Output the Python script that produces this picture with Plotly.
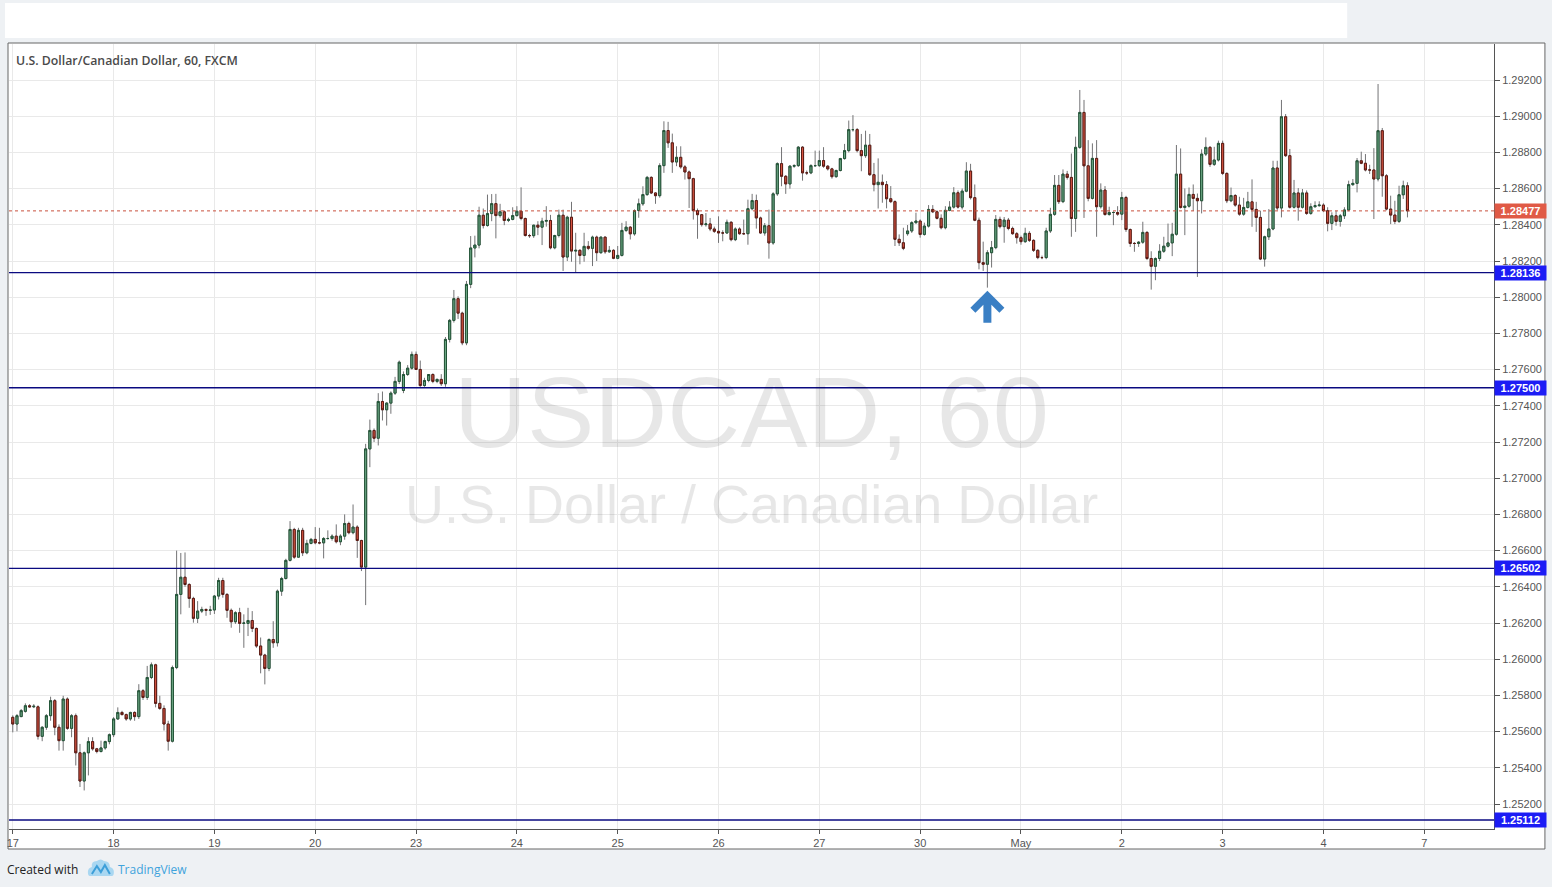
import plotly.graph_objects as go

# ---------------- data ----------------
day_labels = ["17", "18", "19", "20", "23", "24", "25", "26", "27", "30", "May", "2", "3", "4", "7"]

opens = [
    1.25679, 1.25642, 1.25683, 1.25712, 1.25743, 1.25737, 1.25737, 1.25574, 1.25624, 1.25688, 1.25771, 1.25624,
    1.25550, 1.25780, 1.25618, 1.25688, 1.25483, 1.25327, 1.25483, 1.25545, 1.25505, 1.25490, 1.25510, 1.25545,
    1.25583, 1.25670, 1.25706, 1.25694, 1.25670, 1.25706, 1.25683, 1.25826, 1.25789, 1.25899, 1.25969, 1.25756,
    1.25728, 1.25642, 1.25547, 1.25954, 1.26358, 1.26453, 1.26413, 1.26336, 1.26226, 1.26266, 1.26275, 1.26270,
    1.26272, 1.26349, 1.26435, 1.26358, 1.26270, 1.26207, 1.26257, 1.26198, 1.26198, 1.26214, 1.26170, 1.26073,
    1.26023, 1.25949, 1.26109, 1.26091, 1.26376, 1.26446, 1.26546, 1.26717, 1.26564, 1.26712, 1.26588, 1.26640,
    1.26662, 1.26643, 1.26643, 1.26667, 1.26667, 1.26680, 1.26649, 1.26680, 1.26750, 1.26699, 1.26730, 1.26656,
    1.26509, 1.27162, 1.27264, 1.27221, 1.27424, 1.27378, 1.27415, 1.27470, 1.27535, 1.27485, 1.27573, 1.27608,
    1.27684, 1.27601, 1.27512, 1.27540, 1.27573, 1.27535, 1.27546, 1.27522, 1.27767, 1.27872, 1.27992, 1.27912,
    1.27748, 1.28071, 1.28272, 1.28288, 1.28453, 1.28396, 1.28462, 1.28517, 1.28451, 1.28472, 1.28424, 1.28430,
    1.28451, 1.28475, 1.28435, 1.28341, 1.28340, 1.28398, 1.28387, 1.28420, 1.28424, 1.28273, 1.28341, 1.28453,
    1.28222, 1.28442, 1.28255, 1.28259, 1.28231, 1.28281, 1.28270, 1.28332, 1.28246, 1.28332, 1.28251, 1.28259,
    1.28215, 1.28231, 1.28369, 1.28387, 1.28350, 1.28479, 1.28516, 1.28567, 1.28662, 1.28576, 1.28561, 1.28727,
    1.28921, 1.28853, 1.28747, 1.28773, 1.28720, 1.28692, 1.28655, 1.28478, 1.28456, 1.28401, 1.28405, 1.28377,
    1.28364, 1.28355, 1.28355, 1.28414, 1.28318, 1.28377, 1.28351, 1.28351, 1.28489, 1.28534, 1.28438, 1.28355,
    1.28395, 1.28300, 1.28571, 1.28738, 1.28668, 1.28626, 1.28724, 1.28727, 1.28829, 1.28687, 1.28687, 1.28727,
    1.28727, 1.28755, 1.28724, 1.28709, 1.28666, 1.28700, 1.28766, 1.28810, 1.28926, 1.28926, 1.28810, 1.28782,
    1.28840, 1.28677, 1.28622, 1.28635, 1.28622, 1.28544, 1.28528, 1.28320, 1.28301, 1.28351, 1.28366, 1.28412,
    1.28421, 1.28347, 1.28393, 1.28485, 1.28472, 1.28436, 1.28384, 1.28480, 1.28498, 1.28577, 1.28498, 1.28586,
    1.28697, 1.28550, 1.28425, 1.28191, 1.28182, 1.28246, 1.28274, 1.28430, 1.28390, 1.28426, 1.28380, 1.28351,
    1.28329, 1.28307, 1.28353, 1.28314, 1.28259, 1.28219, 1.28219, 1.28366, 1.28458, 1.28618, 1.28528, 1.28680,
    1.28662, 1.28435, 1.28828, 1.29021, 1.28726, 1.28546, 1.28767, 1.28500, 1.28592, 1.28457, 1.28468, 1.28468,
    1.28459, 1.28551, 1.28374, 1.28297, 1.28297, 1.28304, 1.28358, 1.28214, 1.28171, 1.28214, 1.28254, 1.28282,
    1.28300, 1.28348, 1.28680, 1.28496, 1.28503, 1.28568, 1.28546, 1.28533, 1.28791, 1.28828, 1.28734, 1.28758,
    1.28850, 1.28684, 1.28533, 1.28562, 1.28509, 1.28459, 1.28496, 1.28527, 1.28485, 1.28441, 1.28211, 1.28334,
    1.28377, 1.28714, 1.28493, 1.28997, 1.28782, 1.28497, 1.28576, 1.28497, 1.28576, 1.28463, 1.28500, 1.28506,
    1.28509, 1.28478, 1.28408, 1.28450, 1.28419, 1.28450, 1.28482, 1.28622, 1.28629, 1.28754, 1.28740, 1.28703,
    1.28703, 1.28653, 1.28920, 1.28671, 1.28487, 1.28454, 1.28419, 1.28566, 1.28616,
]

highs = [
    1.25690, 1.25697, 1.25725, 1.25756, 1.25752, 1.25752, 1.25745, 1.25630, 1.25697, 1.25793, 1.25780, 1.25640,
    1.25798, 1.25789, 1.25697, 1.25700, 1.25532, 1.25490, 1.25569, 1.25569, 1.25510, 1.25550, 1.25550, 1.25590,
    1.25680, 1.25734, 1.25715, 1.25700, 1.25710, 1.25712, 1.25862, 1.25835, 1.25963, 1.25982, 1.25975, 1.25798,
    1.25745, 1.25660, 1.25965, 1.26600, 1.26587, 1.26590, 1.26420, 1.26345, 1.26321, 1.26290, 1.26280, 1.26295,
    1.26355, 1.26450, 1.26450, 1.26365, 1.26280, 1.26265, 1.26284, 1.26248, 1.26284, 1.26266, 1.26175, 1.26120,
    1.26030, 1.26115, 1.26210, 1.26385, 1.26455, 1.26555, 1.26763, 1.26726, 1.26726, 1.26726, 1.26660, 1.26670,
    1.26730, 1.26726, 1.26675, 1.26712, 1.26690, 1.26745, 1.26690, 1.26800, 1.26760, 1.26855, 1.26740, 1.26660,
    1.27190, 1.27324, 1.27275, 1.27470, 1.27479, 1.27420, 1.27480, 1.27560, 1.27650, 1.27590, 1.27625, 1.27700,
    1.27700, 1.27650, 1.27555, 1.27575, 1.27580, 1.27550, 1.27575, 1.27780, 1.27880, 1.28040, 1.28005, 1.27920,
    1.28090, 1.28338, 1.28340, 1.28500, 1.28490, 1.28567, 1.28570, 1.28571, 1.28516, 1.28480, 1.28440, 1.28497,
    1.28503, 1.28607, 1.28440, 1.28350, 1.28400, 1.28420, 1.28439, 1.28503, 1.28455, 1.28345, 1.28484, 1.28484,
    1.28450, 1.28527, 1.28356, 1.28265, 1.28356, 1.28310, 1.28340, 1.28340, 1.28335, 1.28335, 1.28283, 1.28265,
    1.28283, 1.28411, 1.28420, 1.28393, 1.28485, 1.28545, 1.28613, 1.28670, 1.28668, 1.28580, 1.28740, 1.28972,
    1.28969, 1.28904, 1.28834, 1.28834, 1.28730, 1.28700, 1.28660, 1.28490, 1.28460, 1.28465, 1.28438, 1.28390,
    1.28447, 1.28370, 1.28429, 1.28420, 1.28386, 1.28386, 1.28429, 1.28539, 1.28571, 1.28567, 1.28445, 1.28410,
    1.28484, 1.28580, 1.28745, 1.28829, 1.28675, 1.28730, 1.28735, 1.28835, 1.28835, 1.28700, 1.28735, 1.28810,
    1.28810, 1.28829, 1.28730, 1.28715, 1.28705, 1.28770, 1.28847, 1.28976, 1.29006, 1.28935, 1.28902, 1.28920,
    1.28902, 1.28742, 1.28767, 1.28678, 1.28642, 1.28614, 1.28535, 1.28347, 1.28384, 1.28399, 1.28420, 1.28467,
    1.28430, 1.28412, 1.28509, 1.28509, 1.28480, 1.28458, 1.28503, 1.28531, 1.28608, 1.28590, 1.28601, 1.28746,
    1.28737, 1.28623, 1.28440, 1.28307, 1.28260, 1.28311, 1.28454, 1.28445, 1.28443, 1.28438, 1.28390, 1.28360,
    1.28340, 1.28384, 1.28365, 1.28320, 1.28265, 1.28230, 1.28384, 1.28494, 1.28675, 1.28675, 1.28706, 1.28698,
    1.28794, 1.28887, 1.29145, 1.29090, 1.28868, 1.28850, 1.28868, 1.28629, 1.28614, 1.28500, 1.28475, 1.28503,
    1.28582, 1.28560, 1.28380, 1.28305, 1.28310, 1.28417, 1.28365, 1.28254, 1.28220, 1.28293, 1.28334, 1.28407,
    1.28411, 1.28841, 1.28822, 1.28601, 1.28606, 1.28623, 1.28573, 1.28817, 1.28883, 1.28835, 1.28831, 1.28865,
    1.28865, 1.28690, 1.28606, 1.28570, 1.28555, 1.28549, 1.28582, 1.28651, 1.28527, 1.28478, 1.28340, 1.28487,
    1.28754, 1.28754, 1.29090, 1.29012, 1.28819, 1.28648, 1.28603, 1.28598, 1.28590, 1.28519, 1.28530, 1.28530,
    1.28519, 1.28497, 1.28469, 1.28478, 1.28460, 1.28497, 1.28644, 1.28653, 1.28769, 1.28804, 1.28791, 1.28732,
    1.28824, 1.29178, 1.28935, 1.28680, 1.28561, 1.28533, 1.28616, 1.28644, 1.28635,
]

lows = [
    1.25596, 1.25602, 1.25680, 1.25705, 1.25732, 1.25730, 1.25556, 1.25547, 1.25610, 1.25660, 1.25580, 1.25495,
    1.25495, 1.25610, 1.25569, 1.25413, 1.25294, 1.25275, 1.25358, 1.25495, 1.25480, 1.25485, 1.25500, 1.25530,
    1.25570, 1.25665, 1.25690, 1.25660, 1.25660, 1.25660, 1.25670, 1.25775, 1.25775, 1.25890, 1.25734, 1.25720,
    1.25606, 1.25495, 1.25540, 1.25945, 1.26248, 1.26400, 1.26284, 1.26202, 1.26200, 1.26255, 1.26240, 1.26245,
    1.26250, 1.26330, 1.26340, 1.26229, 1.26174, 1.26195, 1.26146, 1.26063, 1.26128, 1.26150, 1.26063, 1.25922,
    1.25861, 1.25934, 1.26063, 1.26070, 1.26350, 1.26440, 1.26540, 1.26555, 1.26560, 1.26570, 1.26580, 1.26635,
    1.26635, 1.26635, 1.26557, 1.26660, 1.26655, 1.26640, 1.26630, 1.26660, 1.26690, 1.26690, 1.26560, 1.26487,
    1.26299, 1.27061, 1.27200, 1.27181, 1.27319, 1.27291, 1.27356, 1.27460, 1.27520, 1.27470, 1.27565, 1.27600,
    1.27600, 1.27505, 1.27505, 1.27530, 1.27525, 1.27525, 1.27510, 1.27505, 1.27750, 1.27860, 1.27880, 1.27735,
    1.27735, 1.28050, 1.28220, 1.28270, 1.28380, 1.28390, 1.28420, 1.28325, 1.28440, 1.28398, 1.28415, 1.28425,
    1.28445, 1.28425, 1.28335, 1.28328, 1.28328, 1.28343, 1.28288, 1.28390, 1.28265, 1.28265, 1.28330, 1.28145,
    1.28200, 1.28196, 1.28136, 1.28182, 1.28196, 1.28260, 1.28172, 1.28200, 1.28240, 1.28240, 1.28245, 1.28210,
    1.28210, 1.28225, 1.28360, 1.28319, 1.28340, 1.28439, 1.28505, 1.28560, 1.28570, 1.28516, 1.28550, 1.28687,
    1.28825, 1.28687, 1.28724, 1.28710, 1.28650, 1.28493, 1.28429, 1.28323, 1.28390, 1.28390, 1.28365, 1.28355,
    1.28300, 1.28309, 1.28350, 1.28309, 1.28310, 1.28345, 1.28345, 1.28290, 1.28480, 1.28379, 1.28350, 1.28340,
    1.28213, 1.28290, 1.28560, 1.28613, 1.28571, 1.28600, 1.28715, 1.28720, 1.28644, 1.28675, 1.28680, 1.28720,
    1.28720, 1.28715, 1.28700, 1.28655, 1.28660, 1.28695, 1.28760, 1.28800, 1.28915, 1.28800, 1.28696, 1.28770,
    1.28670, 1.28585, 1.28490, 1.28522, 1.28491, 1.28520, 1.28283, 1.28283, 1.28260, 1.28340, 1.28355, 1.28405,
    1.28329, 1.28340, 1.28385, 1.28465, 1.28430, 1.28375, 1.28375, 1.28475, 1.28490, 1.28490, 1.28485, 1.28580,
    1.28540, 1.28420, 1.28154, 1.28145, 1.28053, 1.28164, 1.28265, 1.28380, 1.28301, 1.28370, 1.28345, 1.28296,
    1.28290, 1.28300, 1.28305, 1.28250, 1.28210, 1.28210, 1.28210, 1.28355, 1.28450, 1.28515, 1.28520, 1.28650,
    1.28334, 1.28361, 1.28820, 1.28438, 1.28530, 1.28540, 1.28334, 1.28490, 1.28450, 1.28450, 1.28398, 1.28450,
    1.28426, 1.28361, 1.28278, 1.28251, 1.28278, 1.28295, 1.28205, 1.28042, 1.28094, 1.28200, 1.28245, 1.28275,
    1.28227, 1.28340, 1.28490, 1.28343, 1.28495, 1.28477, 1.28112, 1.28463, 1.28780, 1.28720, 1.28725, 1.28750,
    1.28675, 1.28520, 1.28525, 1.28500, 1.28450, 1.28450, 1.28490, 1.28389, 1.28361, 1.28205, 1.28169, 1.28316,
    1.28370, 1.28480, 1.28441, 1.28775, 1.28490, 1.28490, 1.28423, 1.28490, 1.28455, 1.28455, 1.28495, 1.28500,
    1.28470, 1.28364, 1.28371, 1.28395, 1.28390, 1.28432, 1.28475, 1.28615, 1.28579, 1.28735, 1.28695, 1.28681,
    1.28432, 1.28640, 1.28555, 1.28480, 1.28404, 1.28404, 1.28410, 1.28543, 1.28441,
]

closes = [
    1.25642, 1.25688, 1.25716, 1.25743, 1.25737, 1.25740, 1.25574, 1.25624, 1.25688, 1.25771, 1.25624, 1.25550,
    1.25780, 1.25618, 1.25688, 1.25483, 1.25327, 1.25483, 1.25545, 1.25505, 1.25490, 1.25510, 1.25545, 1.25583,
    1.25670, 1.25706, 1.25694, 1.25670, 1.25706, 1.25683, 1.25826, 1.25789, 1.25899, 1.25969, 1.25756, 1.25728,
    1.25642, 1.25547, 1.25954, 1.26358, 1.26453, 1.26413, 1.26336, 1.26226, 1.26266, 1.26275, 1.26270, 1.26272,
    1.26349, 1.26435, 1.26358, 1.26270, 1.26207, 1.26257, 1.26198, 1.26200, 1.26214, 1.26170, 1.26073, 1.26023,
    1.25949, 1.26109, 1.26091, 1.26376, 1.26446, 1.26546, 1.26717, 1.26564, 1.26712, 1.26588, 1.26640, 1.26662,
    1.26643, 1.26643, 1.26667, 1.26667, 1.26680, 1.26649, 1.26680, 1.26750, 1.26699, 1.26730, 1.26656, 1.26509,
    1.27162, 1.27264, 1.27221, 1.27424, 1.27378, 1.27415, 1.27470, 1.27535, 1.27641, 1.27573, 1.27608, 1.27684,
    1.27601, 1.27512, 1.27540, 1.27573, 1.27535, 1.27546, 1.27522, 1.27767, 1.27872, 1.27992, 1.27912, 1.27748,
    1.28071, 1.28272, 1.28288, 1.28453, 1.28396, 1.28462, 1.28517, 1.28451, 1.28472, 1.28424, 1.28430, 1.28451,
    1.28475, 1.28435, 1.28341, 1.28340, 1.28398, 1.28387, 1.28420, 1.28424, 1.28273, 1.28341, 1.28453, 1.28222,
    1.28442, 1.28255, 1.28259, 1.28231, 1.28281, 1.28270, 1.28332, 1.28246, 1.28332, 1.28251, 1.28259, 1.28215,
    1.28231, 1.28369, 1.28387, 1.28350, 1.28479, 1.28516, 1.28567, 1.28662, 1.28576, 1.28561, 1.28727, 1.28921,
    1.28853, 1.28747, 1.28773, 1.28720, 1.28692, 1.28655, 1.28478, 1.28456, 1.28401, 1.28405, 1.28377, 1.28364,
    1.28355, 1.28355, 1.28414, 1.28318, 1.28377, 1.28351, 1.28351, 1.28489, 1.28534, 1.28438, 1.28355, 1.28395,
    1.28300, 1.28571, 1.28738, 1.28668, 1.28626, 1.28724, 1.28727, 1.28829, 1.28687, 1.28687, 1.28727, 1.28727,
    1.28755, 1.28724, 1.28709, 1.28666, 1.28700, 1.28766, 1.28810, 1.28926, 1.28926, 1.28810, 1.28782, 1.28840,
    1.28677, 1.28622, 1.28635, 1.28622, 1.28544, 1.28528, 1.28320, 1.28301, 1.28270, 1.28366, 1.28412, 1.28421,
    1.28347, 1.28393, 1.28485, 1.28472, 1.28436, 1.28384, 1.28480, 1.28498, 1.28577, 1.28498, 1.28586, 1.28697,
    1.28550, 1.28425, 1.28191, 1.28182, 1.28246, 1.28274, 1.28430, 1.28390, 1.28426, 1.28380, 1.28351, 1.28329,
    1.28307, 1.28353, 1.28314, 1.28259, 1.28219, 1.28219, 1.28366, 1.28458, 1.28618, 1.28528, 1.28680, 1.28662,
    1.28435, 1.28828, 1.29021, 1.28726, 1.28546, 1.28767, 1.28500, 1.28592, 1.28457, 1.28468, 1.28468, 1.28459,
    1.28551, 1.28374, 1.28297, 1.28297, 1.28304, 1.28358, 1.28214, 1.28171, 1.28214, 1.28254, 1.28282, 1.28300,
    1.28348, 1.28680, 1.28496, 1.28503, 1.28568, 1.28546, 1.28533, 1.28791, 1.28828, 1.28734, 1.28758, 1.28850,
    1.28684, 1.28533, 1.28562, 1.28509, 1.28459, 1.28496, 1.28527, 1.28485, 1.28441, 1.28211, 1.28334, 1.28377,
    1.28714, 1.28493, 1.28997, 1.28782, 1.28497, 1.28576, 1.28497, 1.28576, 1.28463, 1.28500, 1.28506, 1.28509,
    1.28478, 1.28408, 1.28450, 1.28419, 1.28450, 1.28482, 1.28622, 1.28629, 1.28754, 1.28740, 1.28703, 1.28703,
    1.28653, 1.28920, 1.28671, 1.28487, 1.28454, 1.28419, 1.28566, 1.28616, 1.28477,
]

levels = [1.28136, 1.27500, 1.26502, 1.25112]
last_price = 1.28477

title_text = "U.S. Dollar/Canadian Dollar, 60, FXCM"
wm_big = "USDCAD, 60"
wm_small = "U.S. Dollar / Canadian Dollar"

# ---------------- styling / geometry ----------------
W, H = 1552, 887
ML, MR, MT, MB = 7, 58, 44, 58
PW, PH = W - ML - MR, H - MT - MB

def px(x):
    return (x - ML) / PW

def py(y):
    return (H - MB - y) / PH

PAGE = "#eef1f4"
GRID = "#e9e9e9"
AXC = "#555555"
WICK = "#737375"
NAVY = "#0a0a80"
BLUEBOX = "#1c1cf5"
REDBOX = "#e05a46"
AXFONT = "Liberation Sans, Arial, sans-serif"
UIFONT = "Open Sans, Noto Sans, sans-serif"
WMFONT = "Liberation Sans, Arial, sans-serif"

hours = list(range(len(closes)))
tick_pos = [24 * k for k in range(len(day_labels))]
body_hi = [max(o, c) for o, c in zip(opens, closes)]
body_lo = [min(o, c) for o, c in zip(opens, closes)]

fig = go.Figure()

# wicks (grey)
fig.add_trace(go.Candlestick(
    x=hours, open=opens, high=highs, low=lows, close=closes,
    increasing=dict(line=dict(color=WICK, width=1), fillcolor=WICK),
    decreasing=dict(line=dict(color=WICK, width=1), fillcolor=WICK),
    whiskerwidth=0, hoverinfo="skip", showlegend=False,
))
# bodies
fig.add_trace(go.Candlestick(
    x=hours, open=opens, high=body_hi, low=body_lo, close=closes,
    increasing=dict(line=dict(color="#225437", width=1), fillcolor="#6ba583"),
    decreasing=dict(line=dict(color="#5b1a13", width=1), fillcolor="#d75442"),
    whiskerwidth=0, hoverinfo="skip", showlegend=False,
))

shapes = []
# top white strip
shapes.append(dict(type="rect", xref="paper", yref="paper", x0=px(3), x1=px(1347), y0=py(38), y1=py(3),
                   fillcolor="white", line=dict(width=0), layer="below"))
# chart panel
shapes.append(dict(type="rect", xref="paper", yref="paper", x0=px(6), x1=px(1545), y0=py(849), y1=py(43),
                   fillcolor="white", line=dict(color="#666666", width=1), layer="below"))
# support / resistance levels
for lv in levels:
    shapes.append(dict(type="line", xref="paper", yref="y", x0=0, x1=1, y0=lv, y1=lv,
                       line=dict(color=NAVY, width=1.4), layer="above"))
# last price line
shapes.append(dict(type="line", xref="paper", yref="y", x0=0, x1=1, y0=last_price, y1=last_price,
                   line=dict(color="#c8503d", width=1, dash="dot"), layer="above"))

# arrow under the lowest touch of the support between 30 Apr and 1 May
touch = min(range(tick_pos[9], tick_pos[10]), key=lambda i: lows[i])
shapes.append(dict(
    type="path", xref="x", yref="y", xsizemode="pixel", ysizemode="pixel",
    xanchor=touch, yanchor=lows[touch],
    path="M0,-3 L17,-20 L12,-25 L4,-17 L4,-35 L-4,-35 L-4,-17 L-12,-25 L-17,-20 Z",
    fillcolor="#3a7fc4", line=dict(width=0), layer="above"))

# TradingView logo (approximation)
shapes.append(dict(
    type="path", xref="paper", yref="paper", xsizemode="pixel", ysizemode="pixel",
    xanchor=px(99), yanchor=py(869),
    path="M-11,-7 L11,-7 Q13,-7 13,-3 Q13,1 9,2 Q9,8 3,8 Q0,11 -4,8 Q-10,8 -9,2 Q-13,1 -13,-3 Q-13,-7 -11,-7 Z",
    fillcolor="#a9d7f1", line=dict(width=0)))
shapes.append(dict(
    type="path", xref="paper", yref="paper", xsizemode="pixel", ysizemode="pixel",
    xanchor=px(99), yanchor=py(869),
    path="M-9,-5 L-4,3 L0,-3 L4,4 L9,-5",
    line=dict(color="#3d9fd9", width=2)))

annotations = []
annotations.append(dict(xref="paper", yref="paper", x=px(12), y=py(60), xanchor="left", yanchor="middle",
                        text=title_text, showarrow=False,
                        font=dict(family=UIFONT, size=12.3, color="#4a4a4a", weight=600)))
annotations.append(dict(xref="paper", yref="paper", x=px(750), y=py(412), xanchor="center", yanchor="middle",
                        text=wm_big, showarrow=False,
                        font=dict(family=WMFONT, size=101, color="rgba(0,0,0,0.095)")))
annotations.append(dict(xref="paper", yref="paper", x=px(751), y=py(504), xanchor="center", yanchor="middle",
                        text=wm_small, showarrow=False,
                        font=dict(family=WMFONT, size=54, color="rgba(0,0,0,0.095)")))
for lv in levels:
    annotations.append(dict(xref="paper", yref="y", x=1, y=lv, xanchor="left", yanchor="middle",
                            text="<b>%.5f</b>" % lv, showarrow=False, bgcolor=BLUEBOX,
                            width=49, height=12, borderpad=1, align="center",
                            font=dict(family=AXFONT, size=11, color="white")))
annotations.append(dict(xref="paper", yref="y", x=1, y=last_price, xanchor="left", yanchor="middle",
                        text="<b>%.5f</b>" % last_price, showarrow=False, bgcolor=REDBOX,
                        width=49, height=12, borderpad=1, align="center",
                        font=dict(family=AXFONT, size=11, color="white")))
annotations.append(dict(xref="paper", yref="paper", x=px(3), y=py(869), xanchor="left", yanchor="middle",
                        text="Created with", showarrow=False,
                        font=dict(family=UIFONT, size=12, color="#222222")))
annotations.append(dict(xref="paper", yref="paper", x=px(114), y=py(869), xanchor="left", yanchor="middle",
                        text="TradingView", showarrow=False,
                        font=dict(family=UIFONT, size=12, color="#3fa3dc")))

fig.update_layout(
    width=W, height=H,
    margin=dict(l=ML, r=MR, t=MT, b=MB),
    paper_bgcolor=PAGE, plot_bgcolor="white",
    showlegend=False,
    shapes=shapes, annotations=annotations,
    xaxis=dict(
        range=[-0.9, 352.6], tickmode="array", tickvals=tick_pos, ticktext=day_labels,
        showgrid=True, gridcolor=GRID, gridwidth=1, zeroline=False,
        showline=True, linecolor=AXC, linewidth=1, mirror=False,
        ticks="outside", ticklen=4, tickcolor=AXC,
        tickfont=dict(family=AXFONT, size=11, color="#555555"),
        rangeslider=dict(visible=False), fixedrange=True,
    ),
    yaxis=dict(
        side="right", range=[1.25062, 1.29399], tick0=1.25, dtick=0.002, tickformat=".5f",
        showgrid=True, gridcolor=GRID, gridwidth=1, zeroline=False,
        showline=True, linecolor=AXC, linewidth=1,
        ticks="outside", ticklen=5, tickcolor=AXC,
        tickfont=dict(family=AXFONT, size=11, color="#555555"),
        fixedrange=True,
    ),
)

fig.write_html("out.html", config={"displayModeBar": False},
               post_script="document.body.style.margin='0';")
